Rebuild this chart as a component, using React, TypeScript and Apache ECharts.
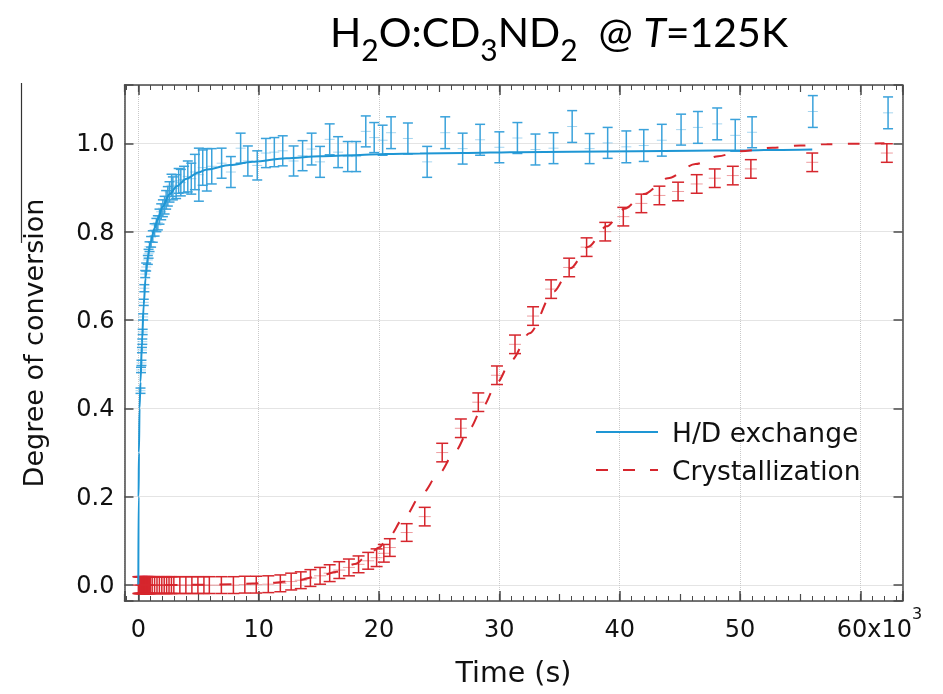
import React, { useEffect, useRef } from 'react';
import * as echarts from 'echarts';

// ---------- data (time in s) ----------
const blueT = [180, 220, 260, 300, 330, 360, 400, 450, 500, 570, 650, 790, 850, 930, 1060, 1200, 1350, 1500, 1620, 1760, 1900, 2040, 2180, 2310, 2450, 2590, 2760, 2870, 3140, 3350, 3530, 3800, 4110, 4400, 4700, 5030, 5350, 5690, 6100, 6920, 7690, 8500, 9100, 9880, 10600, 11300, 12000, 12900, 13650, 14400, 15100, 15900, 16600, 17400, 18100, 18900, 19600, 20300, 21000, 22400, 24000, 25500, 26950, 28400, 30000, 31500, 33000, 34500, 36050, 37500, 39000, 40550, 42000, 43500, 45100, 46500, 48100, 49600, 51000, 56050, 62300];
const blueV = [0.44, 0.487, 0.503, 0.532, 0.551, 0.573, 0.607, 0.64, 0.672, 0.704, 0.72, 0.736, 0.75, 0.766, 0.777, 0.789, 0.804, 0.815, 0.82, 0.834, 0.845, 0.853, 0.86, 0.872, 0.88, 0.89, 0.905, 0.898, 0.902, 0.915, 0.911, 0.918, 0.925, 0.92, 0.935, 0.929, 0.945, 0.94, 0.948, 0.955, 0.935, 0.989, 0.96, 0.95, 0.978, 0.98, 0.983, 0.96, 0.972, 0.987, 0.958, 1.009, 0.98, 0.97, 0.97, 1.027, 1.013, 1.007, 1.024, 1.011, 0.958, 1.024, 0.988, 1.008, 0.991, 1.012, 0.986, 0.989, 1.038, 0.988, 1.001, 0.992, 0.995, 1.007, 1.031, 1.036, 1.044, 1.018, 1.025, 1.072, 1.069];
const blueE = [0.006, 0.006, 0.006, 0.006, 0.006, 0.006, 0.007, 0.007, 0.008, 0.008, 0.009, 0.01, 0.01, 0.011, 0.012, 0.013, 0.014, 0.015, 0.016, 0.017, 0.018, 0.019, 0.02, 0.021, 0.022, 0.023, 0.025, 0.026, 0.027, 0.028, 0.03, 0.03, 0.035, 0.035, 0.04, 0.06, 0.04, 0.048, 0.04, 0.034, 0.035, 0.034, 0.034, 0.033, 0.033, 0.033, 0.034, 0.034, 0.034, 0.036, 0.035, 0.035, 0.035, 0.034, 0.034, 0.035, 0.034, 0.034, 0.036, 0.035, 0.035, 0.036, 0.035, 0.035, 0.035, 0.035, 0.035, 0.035, 0.036, 0.034, 0.035, 0.036, 0.036, 0.036, 0.035, 0.036, 0.036, 0.036, 0.035, 0.036, 0.036];

const blueFitT = [0, 20, 50, 100, 180, 300, 450, 600, 800, 1000, 1350, 1600, 2000, 2600, 3200, 4000, 5000, 5700, 7600, 9500, 12300, 15100, 17900, 20600, 23400, 27000, 31500, 36000, 41400, 46000, 50000, 53000, 56000];
const blueFitV = [0, 0.2, 0.3, 0.4, 0.46, 0.55, 0.635, 0.695, 0.745, 0.775, 0.808, 0.828, 0.856, 0.885, 0.903, 0.92, 0.934, 0.941, 0.951, 0.958, 0.966, 0.971, 0.973, 0.976, 0.977, 0.978, 0.98, 0.981, 0.982, 0.983, 0.984, 0.985, 0.986];

const redT = [0, 50, 100, 150, 200, 250, 300, 350, 400, 450, 500, 550, 600, 650, 700, 750, 800, 850, 900, 950, 1000, 1150, 1350, 1550, 1750, 1950, 2150, 2350, 2550, 2750, 2950, 3450, 3950, 4450, 4950, 5450, 5900, 6900, 7900, 8850, 9800, 10800, 11800, 12700, 13500, 14300, 15100, 15900, 16700, 17500, 18300, 19100, 19800, 20400, 20900, 22300, 23800, 25250, 26800, 28250, 29800, 31300, 32800, 34300, 35800, 37250, 38800, 40300, 41800, 43300, 44850, 46400, 47900, 49400, 50900, 56000, 62200];
const redV = [0, 0, 0, 0, 0, 0, 0, 0, 0, 0, 0, 0, 0, 0, 0, 0, 0, 0, 0, 0, 0, 0, 0, 0, 0, 0, 0, 0, 0, 0, 0, 0, 0, 0, 0, 0, 0, 0, 0, 0.001, 0.001, 0.002, 0.004, 0.008, 0.011, 0.016, 0.021, 0.027, 0.034, 0.04, 0.047, 0.055, 0.062, 0.072, 0.085, 0.119, 0.155, 0.3, 0.355, 0.414, 0.475, 0.545, 0.609, 0.67, 0.719, 0.765, 0.8, 0.834, 0.864, 0.882, 0.891, 0.908, 0.921, 0.927, 0.942, 0.957, 0.978];
const redE = [0.019, 0.019, 0.019, 0.019, 0.019, 0.019, 0.019, 0.019, 0.019, 0.019, 0.019, 0.019, 0.019, 0.019, 0.019, 0.019, 0.019, 0.019, 0.019, 0.019, 0.019, 0.019, 0.019, 0.019, 0.019, 0.019, 0.019, 0.019, 0.019, 0.019, 0.019, 0.019, 0.019, 0.019, 0.019, 0.019, 0.019, 0.019, 0.019, 0.019, 0.019, 0.019, 0.019, 0.019, 0.019, 0.019, 0.019, 0.019, 0.019, 0.019, 0.019, 0.019, 0.02, 0.02, 0.02, 0.02, 0.021, 0.021, 0.021, 0.021, 0.021, 0.021, 0.021, 0.021, 0.021, 0.021, 0.021, 0.021, 0.021, 0.021, 0.021, 0.021, 0.021, 0.021, 0.021, 0.021, 0.021];

const redFitT = [0, 4000, 8000, 11000, 13000, 15000, 16500, 18000, 19000, 20000, 20700, 22150, 23500, 25000, 26300, 27550, 28650, 29800, 31000, 32500, 34500, 35900, 37400, 38900, 40400, 42000, 44000, 46300, 48200, 50000, 52700, 55000, 57200, 59500, 62000];
const redFitV = [0, 0.0005, 0.002, 0.005, 0.01, 0.02, 0.03, 0.048, 0.065, 0.085, 0.105, 0.155, 0.204, 0.253, 0.302, 0.355, 0.405, 0.458, 0.509, 0.57, 0.664, 0.717, 0.766, 0.812, 0.852, 0.885, 0.921, 0.953, 0.971, 0.982, 0.99, 0.995, 0.998, 0.999, 1.0];

const X_MIN = -1150;
const X_MAX = 63500;
const Y_MIN = -0.036;
const Y_MAX = 1.132;

const FONT = "'DejaVu Sans', sans-serif";
const TITLE_FONT = 'Lato, sans-serif';
const BLUE = '#1e96d4';
const BLUE_ERR = '#3aa2db';
const RED = '#d6262d';
const AXIS = '#4a4a4a';

function errSeries(name: string, T: number[], V: number[], E: number[], color: string, hw: number) {
  return {
    type: 'custom',
    name,
    xAxisIndex: 0,
    yAxisIndex: 0,
    silent: true,
    clip: true,
    encode: { x: 0, y: 1 },
    data: T.map((t, i) => [t, V[i], E[i]]),
    renderItem: (_p: any, api: any) => {
      const t = api.value(0);
      const v = api.value(1);
      const e = api.value(2);
      const c = api.coord([t, v]);
      const a = api.coord([t, v + e]);
      const b = api.coord([t, v - e]);
      const st = { stroke: color, lineWidth: 1.5 };
      return {
        type: 'group',
        children: [
          { type: 'line', shape: { x1: c[0], y1: a[1], x2: c[0], y2: b[1] }, style: st },
          { type: 'line', shape: { x1: c[0] - hw, y1: a[1], x2: c[0] + hw, y2: a[1] }, style: st },
          { type: 'line', shape: { x1: c[0] - hw, y1: b[1], x2: c[0] + hw, y2: b[1] }, style: st },
          { type: 'line', shape: { x1: c[0] - hw, y1: c[1], x2: c[0] + hw, y2: c[1] }, style: { stroke: color, lineWidth: 1, opacity: 0.45 } },
        ],
      };
    },
  };
}

function tickAxis(position: 'top' | 'bottom', splitNumber: number, len: number, width: number, showLine: boolean) {
  return {
    type: 'value',
    position,
    min: X_MIN,
    max: X_MAX,
    splitNumber,
    axisLine: { show: showLine, onZero: false, lineStyle: { color: AXIS, width: 1.5 } },
    axisTick: { show: true, inside: true, length: len, lineStyle: { color: AXIS, width } },
    axisLabel: { show: false },
    splitLine: { show: false },
  };
}

export default function App() {
  const ref = useRef<HTMLDivElement>(null);
  useEffect(() => {
    if (!ref.current) return;
    const chart = echarts.init(ref.current, undefined, { renderer: 'svg' });
    const option: any = {
      animation: false,
      title: {
        left: 325,
        top: 11,
        text: '{a|H}{b|2}{a|O:CD}{b|3}{a|ND}{b|2}{a|  @ }{i|T}{a|=125K}',
        textStyle: {
          fontFamily: TITLE_FONT,
          fontSize: 41,
          fontWeight: 'normal',
          color: '#000',
          rich: {
            a: { fontFamily: TITLE_FONT, fontSize: 41, lineHeight: 48, color: '#000', verticalAlign: 'bottom', padding: [0, 0, 12, 0] },
            b: { fontFamily: TITLE_FONT, fontSize: 30, lineHeight: 16, color: '#000', verticalAlign: 'bottom' },
            i: { fontFamily: TITLE_FONT, fontSize: 41, lineHeight: 48, fontStyle: 'italic', color: '#000', verticalAlign: 'bottom', padding: [0, 0, 12, 0] },
          },
        },
      },
      grid: { left: 124.5, right: 40.5, top: 85, bottom: 93, outerBoundsMode: 'none' },
      legend: {
        data: ['H/D exchange', 'Crystallization'],
        orient: 'vertical',
        left: 590,
        top: 412,
        itemWidth: 62,
        itemHeight: 14,
        itemGap: 8,
        selectedMode: false,
        itemStyle: { opacity: 0 },
        textStyle: { fontFamily: FONT, fontSize: 26.5, color: '#111', lineHeight: 30, padding: [0, 0, 0, 9] },
      },
      graphic: [
        { type: 'line', shape: { x1: 21.5, y1: 83, x2: 21.5, y2: 243 }, style: { stroke: '#333', lineWidth: 1.2 } },
      ],
      xAxis: [
        {
          type: 'value',
          position: 'bottom',
          min: X_MIN,
          max: X_MAX,
          splitNumber: 6,
          axisLine: { show: true, onZero: false, lineStyle: { color: AXIS, width: 1.5 } },
          axisTick: { show: true, inside: true, length: 10, lineStyle: { color: AXIS, width: 1.5 } },
          axisLabel: {
            show: true,
            interval: 0,
            margin: 4,
            fontFamily: FONT,
            fontSize: 24,
            lineHeight: 48,
            color: '#111',
            formatter: (v: number) => {
              if (Math.abs(v % 10000) > 1e-6) return '';
              if (v === 60000) return '{p| }60x10{sup|3}';
              return String(v / 1000);
            },
            rich: {
              p: { width: 38, fontSize: 24, lineHeight: 48 },
              sup: { fontFamily: FONT, fontSize: 16, lineHeight: 16, verticalAlign: 'top', color: '#111' },
            },
          },
          splitLine: { show: true, lineStyle: { color: '#c9c9c9', type: 'dotted', width: 1 } },
          name: 'Time (s)',
          nameLocation: 'middle',
          nameGap: 51,
          nameTextStyle: { fontFamily: FONT, fontSize: 28.5, color: '#111' },
        },
        tickAxis('top', 6, 10, 1.5, true),
        tickAxis('bottom', 13, 7, 1.2, false),
        tickAxis('top', 13, 7, 1.2, false),
        tickAxis('bottom', 65, 5, 1, false),
        tickAxis('top', 65, 5, 1, false),
      ],
      yAxis: [
        {
          type: 'value',
          position: 'left',
          min: Y_MIN,
          max: Y_MAX,
          splitNumber: 6,
          axisLine: { show: true, onZero: false, lineStyle: { color: AXIS, width: 1.5 } },
          axisTick: { show: true, inside: true, length: 9, lineStyle: { color: AXIS, width: 1.5 } },
          axisLabel: {
            show: true,
            margin: 10,
            fontFamily: FONT,
            fontSize: 24,
            color: '#111',
            formatter: (v: number) => {
              const k = v * 5;
              if (Math.abs(k - Math.round(k)) > 1e-6 || v < -1e-6 || v > 1.0001) return '';
              return v.toFixed(1);
            },
          },
          splitLine: { show: true, lineStyle: { color: '#c9c9c9', type: 'dotted', width: 1 } },
          name: 'Degree of conversion',
          nameLocation: 'middle',
          nameGap: 78,
          nameTextStyle: { fontFamily: FONT, fontSize: 27, color: '#111' },
        },
        {
          type: 'value',
          position: 'right',
          min: Y_MIN,
          max: Y_MAX,
          splitNumber: 6,
          axisLine: { show: true, onZero: false, lineStyle: { color: AXIS, width: 1.5 } },
          axisTick: { show: true, inside: true, length: 9, lineStyle: { color: AXIS, width: 1.5 } },
          axisLabel: { show: false },
          splitLine: { show: false },
        },
      ],
      series: [
        errSeries('hd-err', blueT, blueV, blueE, BLUE_ERR, 5),
        errSeries('cr-err', redT, redV, redE, RED, 6),
        {
          type: 'line',
          name: 'H/D exchange',
          xAxisIndex: 0,
          yAxisIndex: 0,
          data: blueFitT.map((t, i) => [t, blueFitV[i]]),
          symbol: 'none',
          smooth: 0.3,
          smoothMonotone: 'x',
          lineStyle: { color: BLUE, width: 2 },
          itemStyle: { color: BLUE },
          silent: true,
        },
        {
          type: 'line',
          name: 'Crystallization',
          xAxisIndex: 0,
          yAxisIndex: 0,
          data: redFitT.map((t, i) => [t, redFitV[i]]),
          symbol: 'none',
          smooth: 0.3,
          smoothMonotone: 'x',
          lineStyle: { color: RED, width: 2, type: [12, 15] },
          itemStyle: { color: RED },
          silent: true,
        },
      ],
    };
    chart.setOption(option);
    return () => chart.dispose();
  }, []);
  return <div ref={ref} style={{ position: 'fixed', left: 0, top: 0, width: 943, height: 694 }} />;
}
